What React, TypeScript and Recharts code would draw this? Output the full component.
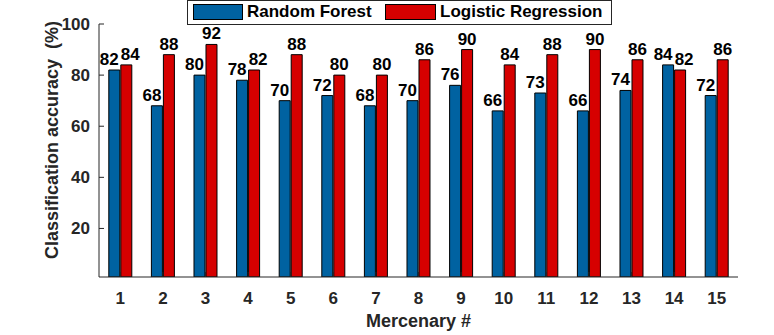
import React from 'react';
import { BarChart, Bar, XAxis, YAxis, LabelList, Label } from 'recharts';

const categories = ['1','2','3','4','5','6','7','8','9','10','11','12','13','14','15'];
const randomForest = [82,68,80,78,70,72,68,70,76,66,73,66,74,84,72];
const logisticRegression = [84,88,92,82,88,80,80,86,90,84,88,90,86,82,86];
const yTicks = [20,40,60,80,100];
const seriesNames = ['Random Forest', 'Logistic Regression'];

const BLUE = '#0062A1';
const RED = '#D60000';
const AXIS = '#262626';
const FONT = '"Liberation Sans", Arial, Helvetica, sans-serif';

const data = categories.map((c, i) => ({ cat: c, rf: randomForest[i], lr: logisticRegression[i] }));

const makeLabel = (which: 'rf' | 'lr') => (props: any) => {
  const { x, y, width, value, index } = props;
  const other = which === 'rf' ? logisticRegression[index] : randomForest[index];
  const close = Math.abs(other - value) <= 4;
  const dx = which === 'rf' ? -5 : (close ? 4 : 0);
  return (
    <text x={x + width / 2 + dx} y={y - 5} textAnchor="middle" fontFamily={FONT}
      fontWeight="bold" fontSize={17} fill="#000">{value}</text>
  );
};

const EmptyTick = () => <g />;

const LegendBox = () => (
  <div style={{ position: 'absolute', left: 187, top: 0, width: 425, height: 25, border: `1px solid ${AXIS}`, background: '#fff', boxSizing: 'border-box', fontFamily: FONT, fontWeight: 'bold', fontSize: 17, color: '#000' }}>
    <div style={{ position: 'absolute', left: 5, top: 3, width: 50, height: 16, background: BLUE, border: '1px solid #000', boxSizing: 'border-box' }} />
    <div style={{ position: 'absolute', left: 59, top: 1, lineHeight: '20px', whiteSpace: 'nowrap' }}>{seriesNames[0]}</div>
    <div style={{ position: 'absolute', left: 197, top: 3, width: 51, height: 16, background: RED, border: '1px solid #000', boxSizing: 'border-box' }} />
    <div style={{ position: 'absolute', left: 252, top: 1, lineHeight: '20px', whiteSpace: 'nowrap' }}>{seriesNames[1]}</div>
  </div>
);

export default function App() {
  return (
    <div style={{ position: 'fixed', left: 0, top: 0, width: 774, height: 335, background: '#fff' }}>
      <BarChart width={774} height={335} data={data} margin={{ top: 24, right: 36, bottom: 0, left: 0 }}
        barCategoryGap="23%" barGap={1}>
        <XAxis dataKey="cat" height={58} tickSize={-5} tickMargin={20} interval={0}
          axisLine={{ stroke: AXIS }} tickLine={{ stroke: AXIS }}
          tick={{ fill: AXIS, fontSize: 17, fontWeight: 'bold', fontFamily: FONT }}>
          <Label content={(p: any) => {
            const vb = p.viewBox;
            return <text x={vb.x + vb.width / 2} y={327} textAnchor="middle" fontFamily={FONT}
              fontWeight="bold" fontSize={18} fill={AXIS}>Mercenary #</text>;
          }} />
        </XAxis>
        <XAxis xAxisId="top" dataKey="cat" orientation="top" height={0} tickSize={-5} interval={0}
          axisLine={{ stroke: AXIS }} tickLine={{ stroke: AXIS }} tick={EmptyTick} />
        <YAxis width={99} domain={[1, 100]} ticks={yTicks} tickSize={-5} tickMargin={14}
          allowDataOverflow axisLine={{ stroke: AXIS }} tickLine={{ stroke: AXIS }}
          tick={{ fill: AXIS, fontSize: 17, fontWeight: 'bold', fontFamily: FONT }}>
          <Label content={() => (
            <text x={0} y={0} transform="translate(58,140) rotate(-90)" textAnchor="middle"
              fontFamily={FONT} fontWeight="bold" fontSize={18} fill={AXIS}
              style={{ whiteSpace: 'pre' }}>{'Classification accuracy  (%)'}</text>
          )} />
        </YAxis>
        <YAxis yAxisId="right" orientation="right" width={0} domain={[1, 100]} ticks={yTicks}
          tickSize={-5} allowDataOverflow axisLine={{ stroke: AXIS }} tickLine={{ stroke: AXIS }} tick={EmptyTick} />
        <Bar dataKey="rf" name={seriesNames[0]} fill={BLUE} stroke="#000" strokeWidth={1} isAnimationActive={false}>
          <LabelList dataKey="rf" content={makeLabel('rf')} />
        </Bar>
        <Bar dataKey="lr" name={seriesNames[1]} fill={RED} stroke="#000" strokeWidth={1} isAnimationActive={false}>
          <LabelList dataKey="lr" content={makeLabel('lr')} />
        </Bar>
      </BarChart>
      <LegendBox />
    </div>
  );
}
